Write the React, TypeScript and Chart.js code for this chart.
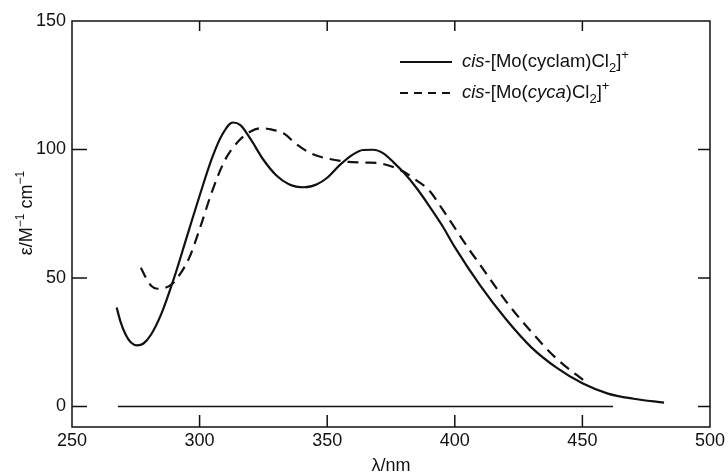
import React, { useEffect, useRef } from "react";
import { Chart, registerables } from "chart.js";

Chart.register(...registerables);

// ---- data ----
const cyclamNm = [267.5, 269, 271, 273, 275.5, 278, 281, 285, 290, 295, 300, 305, 309, 313, 316, 320, 325, 330, 335, 341, 346, 350, 355, 360, 364, 368, 372, 376, 380, 385, 390, 395, 400, 410, 420, 430, 440, 450, 460, 470, 482];
const cyclamEps = [38.5, 33, 28, 25, 23.8, 24.5, 28, 36, 50, 66, 82, 97, 106, 110.5, 109.5, 104, 96, 90, 86.5, 85.3, 86.5, 89, 94, 98, 99.8, 99.9, 98.5, 95, 91, 85, 78, 70.5, 62, 47, 34, 23, 15, 9, 5, 3, 1.5];

const cycaNm = [277, 279, 281, 283.5, 286, 289, 292, 296, 300, 305, 310, 315, 320, 324, 328, 333, 338, 344, 350, 358, 365, 370, 375, 380, 385, 390, 395, 400, 405, 410, 420, 430, 440, 452];
const cycaEps = [54, 50, 47, 45.8, 46, 47.5, 51, 58, 69, 84, 96, 103, 107, 108.3, 107.8, 106.2, 102, 98.3, 96.5, 95.2, 94.9, 94.7, 93.5, 91.3, 88, 84, 77, 69.5, 62, 55, 41, 29, 18.5, 9];

const baselineNm = [268, 462];
const baselineEps = [0, 0];

const xTicks = [250, 300, 350, 400, 450, 500];
const yTicks = [0, 50, 100, 150];
const xMin = 250;
const xMax = 500;
const yMin = -8;
const yMax = 150;

type Part = { t: string; s?: "i" | "sub" | "sup" };
const legendCyclam: Part[] = [
  { t: "cis", s: "i" },
  { t: "-[Mo(cyclam)Cl" },
  { t: "2", s: "sub" },
  { t: "]" },
  { t: "+", s: "sup" },
];
const legendCyca: Part[] = [
  { t: "cis", s: "i" },
  { t: "-[Mo(" },
  { t: "cyca", s: "i" },
  { t: ")Cl" },
  { t: "2", s: "sub" },
  { t: "]" },
  { t: "+", s: "sup" },
];
const yTitle: Part[] = [
  { t: "ε/M" },
  { t: "−1", s: "sup" },
  { t: " cm" },
  { t: "−1", s: "sup" },
];
const xTitle = "λ/nm";

const FAMILY = '"Liberation Sans", Arial, Helvetica, sans-serif';
const INK = "#111";

function fontFor(size: number, s?: string) {
  const small = s === "sub" || s === "sup";
  return (s === "i" ? "italic " : "") + (small ? Math.round(size * 0.68) : size) + "px " + FAMILY;
}

function drawRich(ctx: CanvasRenderingContext2D, parts: Part[], x: number, y: number, size: number, align: "left" | "center") {
  let total = 0;
  for (const p of parts) {
    ctx.font = fontFor(size, p.s);
    total += ctx.measureText(p.t).width;
  }
  let cx = align === "center" ? x - total / 2 : x;
  ctx.textAlign = "left";
  ctx.textBaseline = "alphabetic";
  for (const p of parts) {
    ctx.font = fontFor(size, p.s);
    const dy = p.s === "sub" ? size * 0.25 : p.s === "sup" ? -size * 0.42 : 0;
    ctx.fillText(p.t, cx, y + dy);
    cx += ctx.measureText(p.t).width;
  }
}

const toPoints = (xs: number[], ys: number[]) => xs.map((x, i) => ({ x, y: ys[i] }));

const framePlugin = {
  id: "frameDecor",
  afterDraw(chart: any) {
    const ctx: CanvasRenderingContext2D = chart.ctx;
    const { left, right, top, bottom } = chart.chartArea;
    const xs = chart.scales.x;
    const ys = chart.scales.y;
    ctx.save();
    ctx.strokeStyle = INK;
    ctx.fillStyle = INK;
    ctx.lineWidth = 1.5;
    ctx.strokeRect(left, top, right - left, bottom - top);
    // inward ticks
    ctx.beginPath();
    for (const v of xTicks) {
      if (v === xMin || v === xMax) continue;
      const px = xs.getPixelForValue(v);
      ctx.moveTo(px, bottom);
      ctx.lineTo(px, bottom - 12);
      ctx.moveTo(px, top);
      ctx.lineTo(px, top + 10);
    }
    for (const v of yTicks) {
      if (v === yMax) continue;
      const py = ys.getPixelForValue(v);
      ctx.moveTo(left, py);
      ctx.lineTo(left + 15, py);
      ctx.moveTo(right, py);
      ctx.lineTo(right - 12, py);
    }
    ctx.stroke();

    // axis titles
    ctx.font = "18px " + FAMILY;
    ctx.textAlign = "center";
    ctx.textBaseline = "alphabetic";
    ctx.fillText(xTitle, (left + right) / 2, 471);

    ctx.save();
    ctx.translate(26, 213);
    ctx.rotate(-Math.PI / 2);
    drawRich(ctx, yTitle, 0, 6, 18, "center");
    ctx.restore();

    // legend
    ctx.lineWidth = 2;
    ctx.beginPath();
    ctx.setLineDash([]);
    ctx.moveTo(400, 62);
    ctx.lineTo(452, 62);
    ctx.stroke();
    ctx.beginPath();
    ctx.setLineDash([8, 6]);
    ctx.moveTo(400, 93);
    ctx.lineTo(452, 93);
    ctx.stroke();
    ctx.setLineDash([]);
    drawRich(ctx, legendCyclam, 462, 67, 18.5, "left");
    drawRich(ctx, legendCyca, 462, 98, 18.5, "left");
    ctx.restore();
  },
};

export default function App() {
  const ref = useRef<HTMLCanvasElement | null>(null);
  useEffect(() => {
    if (!ref.current) return;
    const chart = new Chart(ref.current, {
      type: "scatter",
      data: {
        datasets: [
          {
            label: "cyclam",
            data: toPoints(cyclamNm, cyclamEps),
            showLine: true,
            borderColor: INK,
            borderWidth: 2.2,
            pointRadius: 0,
            cubicInterpolationMode: "monotone",
          },
          {
            label: "cyca",
            data: toPoints(cycaNm, cycaEps),
            showLine: true,
            borderColor: INK,
            borderWidth: 2.2,
            borderDash: [11, 7],
            pointRadius: 0,
            cubicInterpolationMode: "monotone",
          },
          {
            label: "baseline",
            data: toPoints(baselineNm, baselineEps),
            showLine: true,
            borderColor: INK,
            borderWidth: 1.5,
            pointRadius: 0,
          },
        ],
      } as any,
      options: {
        responsive: false,
        animation: false,
        devicePixelRatio: 1,
        layout: { padding: { left: 0, right: 16, top: 21, bottom: 0 } },
        plugins: { legend: { display: false }, tooltip: { enabled: false }, title: { display: false } },
        scales: {
          x: {
            type: "linear",
            min: xMin,
            max: xMax,
            grid: { display: false, drawTicks: false },
            border: { display: false },
            afterBuildTicks: (s: any) => {
              s.ticks = xTicks.map((v) => ({ value: v }));
            },
            afterFit: (s: any) => {
              s.height = 46;
            },
            ticks: {
              padding: 3,
              color: INK,
              font: { family: FAMILY, size: 18 },
              maxRotation: 0,
              autoSkip: false,
            },
          },
          y: {
            type: "linear",
            min: yMin,
            max: yMax,
            grid: { display: false, drawTicks: false },
            border: { display: false },
            afterBuildTicks: (s: any) => {
              s.ticks = yTicks.map((v) => ({ value: v }));
            },
            afterFit: (s: any) => {
              s.width = 72;
            },
            ticks: {
              padding: 6,
              color: INK,
              font: { family: FAMILY, size: 18 },
              autoSkip: false,
            },
          },
        },
      } as any,
      plugins: [framePlugin],
    });
    return () => chart.destroy();
  }, []);
  return (
    <div style={{ position: "fixed", left: 0, top: 0, width: 728, height: 473, background: "#fff" }}>
      <canvas ref={ref} width={728} height={473} />
    </div>
  );
}
